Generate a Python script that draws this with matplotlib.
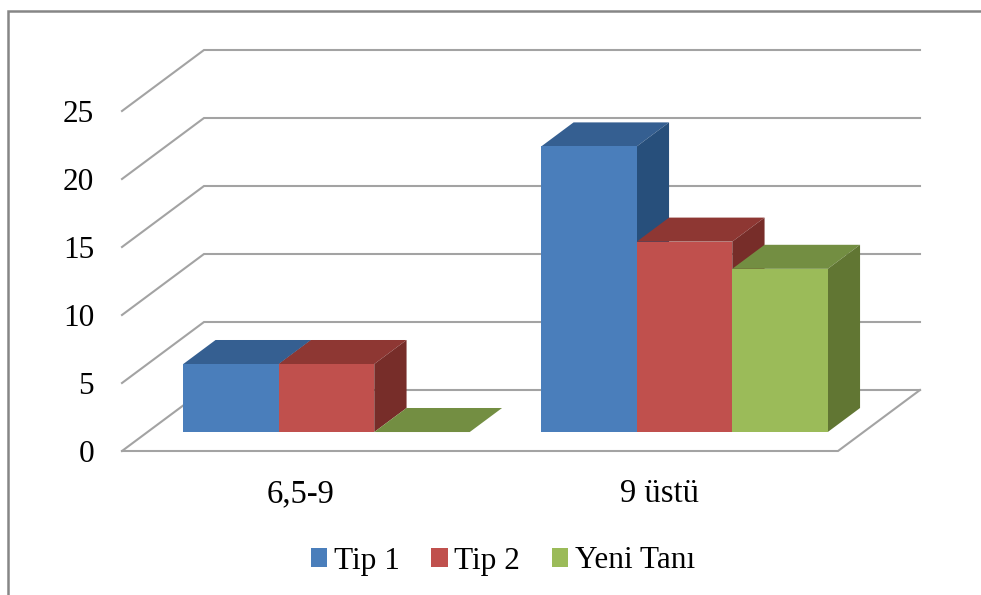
#! /usr/bin/env python3
from matplotlib import pyplot as plt
from matplotlib.lines import Line2D
import numpy as np

categories = ["6,5-9", "9 üstü"]
series = ["Tip 1", "Tip 2", "Yeni Tanı"]
tip1 = [5, 21]
tip2 = [5, 14]
yeni_tani = [0, 12]
yticks = [0, 5, 10, 15, 20, 25]

front_colors = ["#4a7ebb", "#c0504d", "#9bbb59"]
top_colors = ["#355f91", "#8e3733", "#738e42"]
side_colors = ["#274f7b", "#772d29", "#617633"]
line_color = "#a3a3a3"
frame_color = "#868686"

W, H = 981, 595
plt.rcParams["font.family"] = ["Liberation Serif", "DejaVu Serif"]
fig = plt.figure(figsize=(W / 100, H / 100), dpi=100)
# plot rectangle is the front edge of the floor
ax = fig.add_axes([122 / W, 1 - 451 / H, 716 / W, 340 / H])
ax.set_xlim(-0.5, 1.5)
ax.set_ylim(0, 25)

# oblique offset of the back wall, in data units
depth_x = 82 / 358
depth_y = 61 / 13.6
# front and back of the bars as a fraction of the floor depth
bar_front = 0.311
bar_back = 0.705
bar_width = 95.5 / 358


def project(x, y, d):
    return x + d * depth_x, y + d * depth_y


for tick in yticks:
    xs = [-0.5, project(-0.5, tick, 1)[0], project(1.5, tick, 1)[0]]
    ys = [tick, project(0, tick, 1)[1], project(0, tick, 1)[1]]
    ax.plot(xs, ys, color=line_color, lw=1.5, clip_on=False, zorder=1,
            solid_joinstyle="miter")
# floor outline
fx, fy = project(1.5, 0, 1)
ax.plot([-0.5, 1.5, fx], [0, 0, fy], color=line_color, lw=1.5, clip_on=False,
        zorder=1, solid_joinstyle="miter")

x = np.arange(len(categories))
base = bar_front * depth_y
for i, values in enumerate([tip1, tip2, yeni_tani]):
    left = x + (i - 1.5) * bar_width + bar_front * depth_x
    z = 3 + 2 * i
    ax.bar(left, values, width=bar_width, bottom=base, align="edge",
           color=front_colors[i], label=series[i], clip_on=False, zorder=z + 1)
    dx = (bar_back - bar_front) * depth_x
    dy = (bar_back - bar_front) * depth_y
    for l, v in zip(left, values):
        r = l + bar_width
        t = base + v
        ax.fill([l, r, r + dx, l + dx], [t, t, t + dy, t + dy],
                color=top_colors[i], lw=0, clip_on=False, zorder=z)
        if v > 0:
            ax.fill([r, r + dx, r + dx, r], [base, base + dy, t + dy, t],
                    color=side_colors[i], lw=0, clip_on=False, zorder=z)

ax.set_xticks(x, categories)
ax.set_yticks(yticks)
ax.tick_params(axis="y", length=0, labelsize=22.5, pad=20)
ax.tick_params(axis="x", length=0, labelsize=23.5, pad=20)
for spine in ax.spines.values():
    spine.set_visible(False)
ax.patch.set_visible(False)

fig.legend(loc="center", bbox_to_anchor=(503 / W, 1 - 561 / H), ncol=3,
           frameon=False, fontsize=22.5, handlelength=0.52, handleheight=0.52,
           handletextpad=0.22, columnspacing=1.0, borderpad=0, borderaxespad=0)

# chart border, only the top and left edges show
fig.add_artist(Line2D([8 / W, 8 / W, 1], [0, 1 - 10.5 / H, 1 - 10.5 / H],
                      color=frame_color, lw=1.8, solid_joinstyle="miter"))

plt.savefig("out.png", dpi=100)
